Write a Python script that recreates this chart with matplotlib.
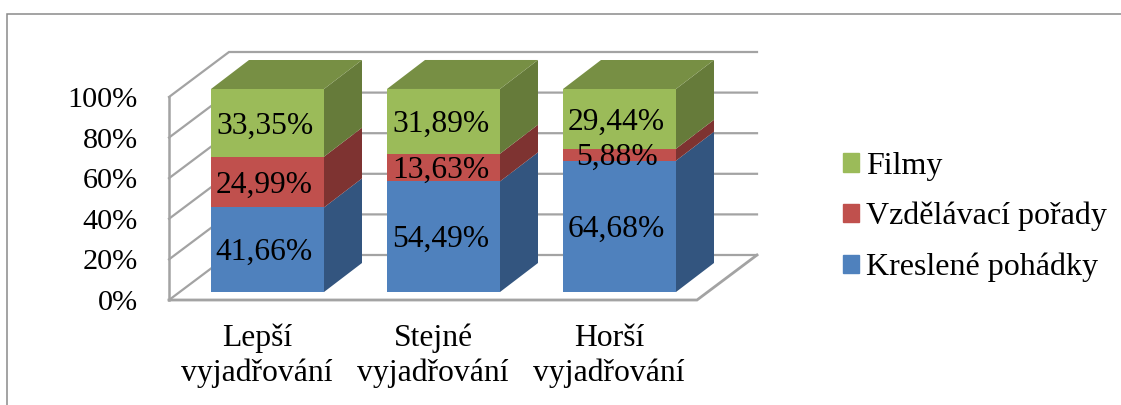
import matplotlib
matplotlib.use("Agg")
import matplotlib.pyplot as plt
from matplotlib.patches import Patch

plt.rcParams['font.family'] = ['Liberation Serif', 'DejaVu Serif']

categories = ["Lepší\nvyjadřování", "Stejné\nvyjadřování", "Horší\nvyjadřování"]
series_names = ["Kreslené pohádky", "Vzdělávací pořady", "Filmy"]
kreslene = [41.66, 54.49, 64.68]
vzdelavaci = [24.99, 13.63, 5.88]
filmy = [33.35, 31.89, 29.44]
y_ticks = [0, 20, 40, 60, 80, 100]

front_cols = ["#4F81BD", "#C0504D", "#9BBB59"]
side_cols = ["#33557F", "#7E3331", "#667B3A"]
top_col = "#778F44"
grid_col = "#A3A3A3"
frame_col = "#8A8A8A"

W, H = 1121, 405
fig = plt.figure(figsize=(W / 100, H / 100), dpi=100)
ax = fig.add_axes([0, 0, 1, 1])

# linear scale of the oblique chart: category index / percent
PX_X, PX_Y = 176.0, 2.03
X0_PX, Y0_PX = 267.5, 292.0
ax.set_xlim(-X0_PX / PX_X, (W - X0_PX) / PX_X)
ax.set_ylim(-(H - Y0_PX) / PX_Y, Y0_PX / PX_Y)
ax.axis("off")

bar_w = 113 / PX_X
bar_dx, bar_dy = 38 / PX_X, 29 / PX_Y
wall_x0, wall_y0 = (169 - X0_PX) / PX_X, -8 / PX_Y
wall_dx, wall_dy = 60 / PX_X, 45 / PX_Y
wall_x1 = (697 - X0_PX) / PX_X

# frame around the picture
fx0, fy1 = ax.transData.inverted().transform((7, H - 14))
fy0 = ax.get_ylim()[0]
ax.plot([fx0, fx0, ax.get_xlim()[1]], [fy0, fy1, fy1], color=frame_col, lw=1.1, solid_joinstyle="miter", zorder=1)

# walls and gridlines
for v in y_ticks:
    yf = wall_y0 + v
    ax.plot([wall_x0, wall_x0 + wall_dx, wall_x1 + wall_dx], [yf, yf + wall_dy, yf + wall_dy],
            color=grid_col, lw=1.6, solid_joinstyle="miter", zorder=2)
    ax.text(wall_x0 - 31 / PX_X, yf - 3 / PX_Y, f"{v}%", ha="right", va="center", fontsize=21.8, color="black")
ax.plot([wall_x0, wall_x0], [wall_y0, wall_y0 + 100], color=grid_col, lw=1.8, zorder=2)
ax.plot([wall_x0, wall_x1, wall_x1 + wall_dx], [wall_y0, wall_y0, wall_y0 + wall_dy],
        color=grid_col, lw=2.0, solid_joinstyle="miter", zorder=2)

# bars
for i, cat in enumerate(categories):
    bottom = 0.0
    values = [kreslene[i], vzdelavaci[i], filmy[i]]
    left = i - bar_w / 2
    right = i + bar_w / 2
    for val, fc, sc in zip(values, front_cols, side_cols):
        ax.fill([right, right + bar_dx, right + bar_dx, right],
                [bottom, bottom + bar_dy, bottom + val + bar_dy, bottom + val],
                color=sc, lw=0, zorder=3 + i)
        ax.bar(i, val, width=bar_w, bottom=bottom, color=fc, lw=0, zorder=3 + i)
        ax.text(i - 3 / PX_X, bottom + val / 2 - 3 / PX_Y, f"{val:.2f}%".replace(".", ","),
                ha="center", va="center", fontsize=22.7, color="black", zorder=10)
        bottom += val
    ax.fill([left, right, right + bar_dx, left + bar_dx],
            [bottom, bottom, bottom + bar_dy, bottom + bar_dy],
            color=top_col, lw=0, zorder=3 + i)
    ax.text(i - 10.5 / PX_X, -64 / PX_Y, cat, ha="center", va="center",
            fontsize=22.8, linespacing=1.24, color="black")

handles = [Patch(color=c) for c in reversed(front_cols)]
ax.legend(handles, list(reversed(series_names)), loc="center left",
          bbox_to_anchor=(843 / W, 1 - 217 / H), frameon=False, fontsize=23,
          handlelength=0.5, handleheight=0.5, handletextpad=0.22, labelspacing=0.66,
          borderpad=0, borderaxespad=0)

fig.savefig("out.png", dpi=100, facecolor="white")
